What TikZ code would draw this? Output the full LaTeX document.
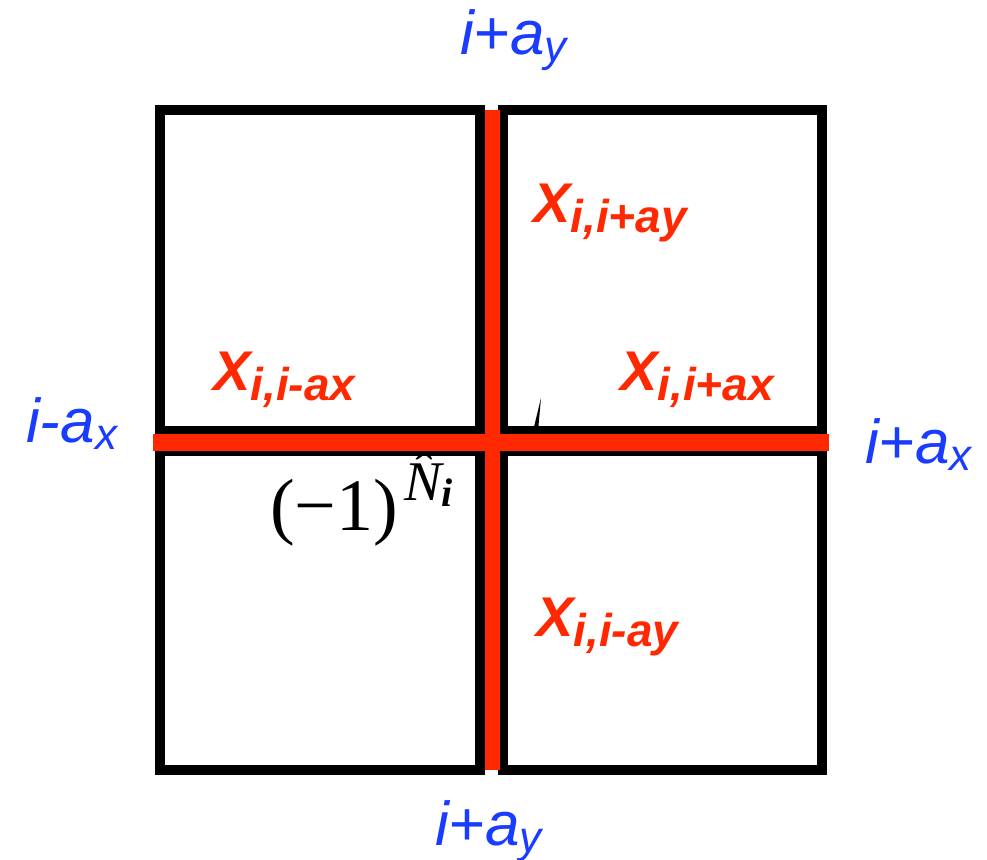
\documentclass[tikz,border=0pt]{standalone}
\usepackage{fontspec}
\setmainfont{Liberation Sans}
\newfontfamily\libserif{Liberation Serif}
\definecolor{labred}{RGB}{255,40,0}
\definecolor{labblue}{RGB}{25,60,255}
\newcommand{\bluelab}[2]{{\fontsize{62}{62}\selectfont\itshape #1}\raisebox{-7pt}{\fontsize{44}{44}\selectfont\itshape #2}}
\newcommand{\redlab}[1]{{\fontsize{56}{56}\selectfont\bfseries\itshape X}\raisebox{-10pt}{\fontsize{46}{46}\selectfont\bfseries\itshape #1}}
\begin{document}
\begin{tikzpicture}[x=1pt,y=-1pt,
  cell/.style={draw=black,line width=10pt,line join=miter},
  redbar/.style={draw=labred,line width=#1},
  lab/.style={inner sep=0pt,anchor=base west}]
\useasboundingbox (0,0) rectangle (987,859);
% four squares
\draw[cell] (160,110) rectangle (480,431);
\draw[cell] (503,110) rectangle (822,431);
\draw[cell] (160,451) rectangle (480,770);
\draw[cell] (503,451) rectangle (822,770);
% red cross
\coordinate (vt) at (492,110);
\coordinate (vb) at (492,770);
\coordinate (hl) at (153,442);
\coordinate (hr) at (829,442);
\draw[redbar=15pt] (vt) -- (vb);
\draw[redbar=17pt] (hl) -- (hr);
% small stroke
\fill[black] (533,431) -- (538,431) -- (541,398) -- cycle;
% blue labels
\node[lab,text=labblue] (top) at (460,55) {\bluelab{i+a}{y}};
\node[lab,text=labblue] (bot) at (435,845) {\bluelab{i+a}{y}};
\node[lab,text=labblue] (left) at (26,442) {\bluelab{i-a}{x}};
\node[lab,text=labblue] (right) at (865,463) {\bluelab{i+a}{x}};
% red labels
\node[lab,text=labred] (xiy) at (533,222) {\redlab{i,i+ay}};
\node[lab,text=labred] (xmx) at (213,390) {\redlab{i,i-ax}};
\node[lab,text=labred] (xpx) at (620,390) {\redlab{i,i+ax}};
\node[lab,text=labred] (xmy) at (536,636) {\redlab{i,i-ay}};
% parity operator
\node[lab,text=black] (par) at (270,530) {\fontsize{74}{74}\selectfont\libserif (−1)\hspace{6pt}\raisebox{30pt}{\fontsize{56}{56}\selectfont\itshape N̂\raisebox{-6pt}{\fontsize{40}{40}\selectfont\bfseries i}}};
\end{tikzpicture}
\end{document}
